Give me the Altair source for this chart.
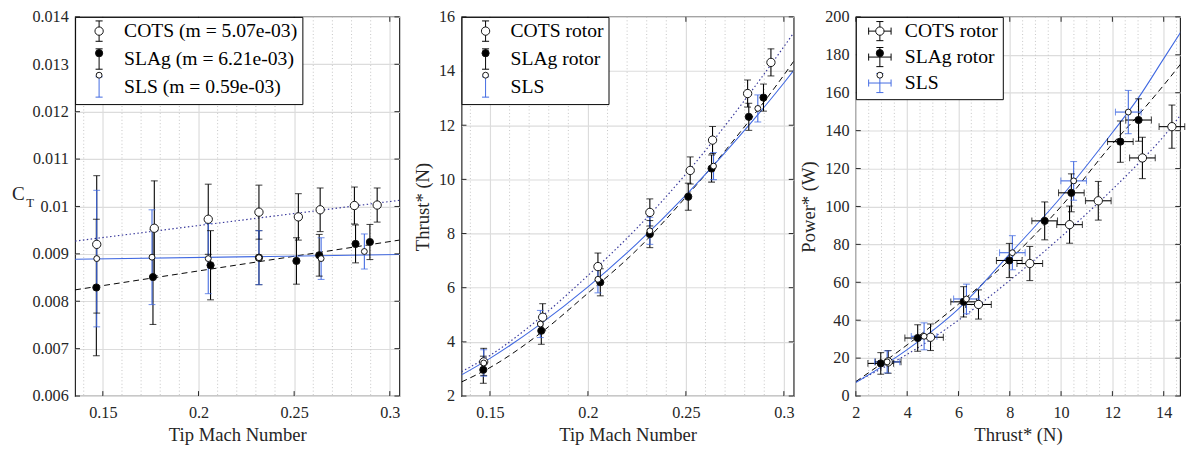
import altair as alt
import pandas as pd

FONT = "Liberation Serif, Times New Roman, serif"
AX = "#262626"
BLUE = "#4169e1"
NAVY = "#3a3a9c"

# ---------------- data ----------------
names_ct = ["COTS (m = 5.07e-03)", "SLAg (m = 6.21e-03)", "SLS (m = 0.59e-03)"]
names_rotor = ["COTS rotor", "SLAg rotor", "SLS"]

mach_cots = [0.1468, 0.1769, 0.2051, 0.2316, 0.2522, 0.2636, 0.2815, 0.2934]
mach_slag = [0.1466, 0.1762, 0.2063, 0.2316, 0.2512, 0.2631, 0.2821, 0.2896]
mach_sls = [0.1468, 0.1757, 0.2051, 0.2316, 0.2641, 0.2867]

ct_cots = [0.00920, 0.00954, 0.00973, 0.00988, 0.00978, 0.00993, 0.01002, 0.01003]
ct_cots_err = [0.00145, 0.00100, 0.00074, 0.00057, 0.00049, 0.00046, 0.00039, 0.00036]
ct_slag = [0.00829, 0.00851, 0.00876, 0.00892, 0.00885, 0.00897, 0.00921, 0.00925]
ct_slag_err = [0.00144, 0.00100, 0.00073, 0.00057, 0.00049, 0.00044, 0.00040, 0.00037]
ct_sls = [0.00890, 0.00893, 0.00890, 0.00892, 0.00890, 0.00905]
ct_sls_err = [0.00144, 0.00100, 0.00074, 0.00057, 0.00044, 0.00037]

thrust_cots = [3.26, 4.91, 6.78, 8.78, 10.33, 11.45, 13.17, 14.32]
thrust_cots_err = [0.50, 0.50, 0.50, 0.50, 0.50, 0.50, 0.50, 0.50]
thrust_slag = [2.97, 4.41, 6.20, 7.98, 9.36, 10.40, 12.31, 13.02]
thrust_slag_err = [0.50, 0.50, 0.50, 0.50, 0.50, 0.50, 0.50, 0.50]
thrust_sls = [3.22, 4.66, 6.31, 8.10, 10.49, 12.62]
thrust_sls_err = [0.49, 0.50, 0.50, 0.50, 0.50, 0.50]

power_cots = [18.0, 31.0, 48.3, 69.9, 90.4, 103.0, 125.6, 142.1]
power_cots_err = [6.0, 7.0, 7.7, 9.0, 9.8, 10.2, 10.9, 11.4]
power_slag = [17.2, 30.6, 49.7, 71.5, 92.4, 107.2, 134.2, 145.6]
power_slag_err = [5.7, 7.0, 8.0, 9.0, 10.0, 10.0, 10.9, 11.2]
power_sls = [18.0, 31.5, 51.2, 75.6, 113.5, 149.8]
power_sls_err = [5.8, 7.1, 7.8, 9.0, 10.2, 11.4]

# fitted curves
fit1_mach = [0.1355, 0.305]
fit1_cots = [0.00927, 0.01013]
fit1_slag = [0.00824, 0.00929]
fit1_sls = [0.008885, 0.008985]

fit2_mach = [0.1355, 0.15, 0.175, 0.2, 0.225, 0.25, 0.275, 0.3, 0.305]
fit2_cots = [2.90, 3.50, 4.85, 6.45, 8.20, 10.20, 12.45, 14.90, 15.41]
fit2_slag = [2.52, 3.05, 4.28, 5.80, 7.40, 9.35, 11.50, 13.85, 14.36]
fit2_sls = [2.78, 3.39, 4.62, 6.03, 7.63, 9.42, 11.40, 13.56, 14.02]

fit3_thrust = [2, 4, 6, 8, 10, 12, 13, 14, 15]
fit3_cots = [7.5, 22.0, 40.0, 61.0, 84.0, 109.0, 122.5, 137.0, 154.5]
fit3_slag = [7.6, 27.0, 48.5, 72.0, 100.0, 133.0, 148.0, 164.0, 181.0]
fit3_sls = [7.1, 24.5, 46.0, 75.0, 105.0, 139.0, 157.0, 178.0, 199.0]

# axis ticks
ticks_mach = [0.15, 0.2, 0.25, 0.3]
minor_mach = [0.14, 0.16, 0.17, 0.18, 0.19, 0.21, 0.22, 0.23, 0.24, 0.26, 0.27, 0.28, 0.29]
ticks_ct = [0.006, 0.007, 0.008, 0.009, 0.01, 0.011, 0.012, 0.013, 0.014]
ticks_thrust_y = [2, 4, 6, 8, 10, 12, 14, 16]
ticks_thrust_x = [2, 4, 6, 8, 10, 12, 14]
minor_thrust = [2.5, 3, 3.5, 4.5, 5, 5.5, 6.5, 7, 7.5, 8.5, 9, 9.5, 10.5, 11, 11.5,
                12.5, 13, 13.5, 14.5]
ticks_power = [0, 20, 40, 60, 80, 100, 120, 140, 160, 180, 200]

ct_title = ["C", "T"]

GLYPH_V = "M0,-2.45L0,2.45M-0.85,-2.45L0.85,-2.45M-0.85,2.45L0.85,2.45"
GLYPH_X = ("M0,-2.3L0,2.3M-0.85,-2.3L0.85,-2.3M-0.85,2.3L0.85,2.3"
           "M-2.7,0L2.7,0M-2.7,-0.85L-2.7,0.85M2.7,-0.85L2.7,0.85")

SERIES_COLORS = ["#000000", "#000000", BLUE]
FILLS = ["white", "black", "white"]
SIZES = [72, 36, 30]
H = 387


def legend_common(**kw):
    return alt.Legend(orient="none", legendX=0, legendY=0, title=None,
                      labelFont=FONT, labelFontSize=20, labelColor="black",
                      labelLimit=400, padding=4.5, symbolOffset=10, labelOffset=15.5,
                      rowPadding=2.5, symbolStrokeWidth=1, **kw)


def make_axis(values, fmt, title):
    common = dict(values=values, format=fmt, labelFont=FONT, labelFontSize=16.5,
                  labelColor=AX, titleFont=FONT, titleFontSize=19,
                  titleFontWeight="normal", titleColor=AX, grid=True,
                  gridColor="#dcdcdc", gridWidth=1.2, domain=False, ticks=False,
                  tickSize=0, labelFlush=False)
    if title:
        return alt.Axis(title=title, **common)
    return alt.Axis(title=None, **common)


def panel(names, xs, ys, yerrs, xerrs, fit_x, fit_ys, xdom, ydom, xticks, yticks,
          xfmt, yfmt, minor, width, height, xtitle, ytitle, glyph, ct_label=False):
    xscale = alt.Scale(domain=xdom, nice=False, zero=False)
    yscale = alt.Scale(domain=ydom, nice=False, zero=False)
    xaxis = make_axis(xticks, xfmt, xtitle)
    yaxis = make_axis(yticks, yfmt, ytitle)

    def X():
        return alt.X("x:Q", scale=xscale, axis=xaxis)

    def Y():
        return alt.Y("y:Q", scale=yscale, axis=yaxis)

    keys = [n + " " for n in names]
    pts, rules, hcaps, vcaps = [], [], [], []
    for i, n in enumerate(names):
        for j in range(len(xs[i])):
            x, y, e = xs[i][j], ys[i][j], yerrs[i][j]
            pts.append({"x": x, "y": y, "k": keys[i]})
            rules.append({"x": x, "xb": x, "y": y - e, "yb": y + e, "s": n})
            hcaps.append({"x": x, "y": y - e, "s": n})
            hcaps.append({"x": x, "y": y + e, "s": n})
            if xerrs is not None:
                xe = xerrs[i][j]
                rules.append({"x": x - xe, "xb": x + xe, "y": y, "yb": y, "s": n})
                vcaps.append({"x": x - xe, "y": y, "s": n})
                vcaps.append({"x": x + xe, "y": y, "s": n})

    layers = []
    # minor dotted grid
    layers.append(
        alt.Chart(pd.DataFrame({"x": minor})).mark_rule(
            color="#c4c4c4", strokeDash=[1, 2.5], strokeWidth=1
        ).encode(x=X())
    )
    # fitted curves
    styles = [dict(color=NAVY, strokeDash=[1.5, 2.5], strokeWidth=1.2),
              dict(color="black", strokeDash=[6, 4], strokeWidth=1),
              dict(color=BLUE, strokeWidth=1.1)]
    for fy, st in zip(fit_ys, styles):
        layers.append(
            alt.Chart(pd.DataFrame({"x": fit_x, "y": fy})).mark_line(
                interpolate="monotone", clip=True, **st
            ).encode(x=X(), y=Y())
        )
    # error bars (legend A: bar glyph + box)
    layers.append(
        alt.Chart(pd.DataFrame(rules)).mark_rule(strokeWidth=1.1).encode(
            x=X(), x2="xb:Q", y=Y(), y2="yb:Q",
            color=alt.Color("s:N", scale=alt.Scale(domain=names, range=SERIES_COLORS),
                            legend=legend_common(fillColor="white", strokeColor="black",
                                                 symbolType=glyph, symbolSize=72)),
        )
    )
    cap_color = alt.Color("s:N", scale=alt.Scale(domain=names, range=SERIES_COLORS),
                          legend=None)
    layers.append(
        alt.Chart(pd.DataFrame(hcaps)).mark_tick(orient="horizontal", size=7,
                                                 thickness=1.1).encode(
            x=X(), y=Y(), color=cap_color)
    )
    if vcaps:
        layers.append(
            alt.Chart(pd.DataFrame(vcaps)).mark_tick(orient="vertical", size=7,
                                                     thickness=1.1).encode(
                x=X(), y=Y(), color=cap_color)
        )
    # markers (legend B: circles drawn over legend A)
    legB = legend_common(labelOpacity=0, labelExpr="' '", symbolType="circle")
    layers.append(
        alt.Chart(pd.DataFrame(pts)).mark_point(
            filled=True, strokeWidth=1, opacity=1
        ).encode(
            x=X(), y=Y(),
            fill=alt.Fill("k:N", scale=alt.Scale(domain=keys, range=FILLS), legend=legB),
            stroke=alt.Stroke("k:N", scale=alt.Scale(domain=keys,
                                                     range=["#111111", "#111111", "#111111"]),
                              legend=legB),
            size=alt.Size("k:N", scale=alt.Scale(domain=keys, range=SIZES), legend=legB),
        )
    )
    # inward ticks on all four sides
    tx = pd.DataFrame({"x": xticks})
    ty = pd.DataFrame({"y": yticks})
    tk = dict(color=AX, strokeWidth=1)
    layers.append(alt.Chart(tx).mark_rule(**tk).encode(
        x=X(), y=alt.value(height), y2=alt.value(height - 5)))
    layers.append(alt.Chart(tx).mark_rule(**tk).encode(
        x=X(), y=alt.value(0), y2=alt.value(5)))
    layers.append(alt.Chart(ty).mark_rule(**tk).encode(
        y=Y(), x=alt.value(0), x2=alt.value(5)))
    layers.append(alt.Chart(ty).mark_rule(**tk).encode(
        y=Y(), x=alt.value(width), x2=alt.value(width - 5)))
    if ct_label:
        layers.append(
            alt.Chart(pd.DataFrame({"t": [ct_title[0]]})).mark_text(
                font=FONT, fontSize=19.5, color=AX, align="center", baseline="middle"
            ).encode(x=alt.value(-58), y=alt.value(181), text="t:N")
        )
        layers.append(
            alt.Chart(pd.DataFrame({"t": [ct_title[1]]})).mark_text(
                font=FONT, fontSize=13, color=AX, align="center", baseline="middle"
            ).encode(x=alt.value(-46), y=alt.value(190), text="t:N")
        )
    return alt.layer(*layers).properties(width=width, height=height)


p1 = panel(names_ct,
           [mach_cots, mach_slag, mach_sls],
           [ct_cots, ct_slag, ct_sls],
           [ct_cots_err, ct_slag_err, ct_sls_err],
           None,
           fit1_mach, [fit1_cots, fit1_slag, fit1_sls],
           [0.1355, 0.305], [0.006, 0.014], ticks_mach, ticks_ct, ".2~f", ".3~f",
           minor_mach, 331, H, "Tip Mach Number", None, GLYPH_V, ct_label=True)

p2 = panel(names_rotor,
           [mach_cots, mach_slag, mach_sls],
           [thrust_cots, thrust_slag, thrust_sls],
           [thrust_cots_err, thrust_slag_err, thrust_sls_err],
           None,
           fit2_mach, [fit2_cots, fit2_slag, fit2_sls],
           [0.1355, 0.305], [2, 16], ticks_mach, ticks_thrust_y, ".2~f", "d",
           minor_mach, 339, H, "Tip Mach Number", "Thrust* (N)", GLYPH_V)

p3 = panel(names_rotor,
           [thrust_cots, thrust_slag, thrust_sls],
           [power_cots, power_slag, power_sls],
           [power_cots_err, power_slag_err, power_sls_err],
           [thrust_cots_err, thrust_slag_err, thrust_sls_err],
           fit3_thrust, [fit3_cots, fit3_slag, fit3_sls],
           [2, 14.64], [0, 200], ticks_thrust_x, ticks_power, "d", "d",
           minor_thrust, 331, H, "Thrust* (N)", "Power* (W)", GLYPH_X)

indep = dict(stroke="independent", color="independent", fill="independent",
             size="independent")

inner = alt.hconcat(p1, p2, spacing=11.5).resolve_scale(**indep)
chart = (
    alt.hconcat(inner, p3, spacing=4)
    .resolve_scale(**indep)
    .properties(padding={"left": 2.5, "top": -4.5, "right": 0, "bottom": 0},
                background="white")
    .configure_axis(labelFont=FONT, titleFont=FONT)
    .configure_axisX(labelPadding=8.5, titlePadding=5)
    .configure_axisY(labelPadding=7, titlePadding=6.5)
    .configure_view(stroke=AX, strokeWidth=1.2)
)

chart.save("out.html", embed_options={"renderer": "svg", "actions": False})
